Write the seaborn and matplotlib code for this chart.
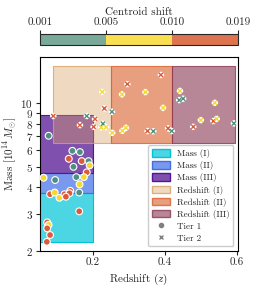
import numpy as np
import pandas as pd
import matplotlib
matplotlib.use('Agg')
import matplotlib.pyplot as plt
import matplotlib.colors as mcolors
import matplotlib.patheffects as pe
from matplotlib.lines import Line2D
from matplotlib.patches import Patch
from matplotlib.ticker import FixedLocator, NullLocator, ScalarFormatter
import seaborn as sns

# Tier 1 clusters (circles)
t1_z = [0.077, 0.143, 0.164, 0.133, 0.146, 0.169, 0.188, 0.191, 0.183, 0.175, 0.154,
        0.163, 0.063, 0.095, 0.162, 0.081, 0.094, 0.107, 0.121, 0.137, 0.135, 0.125,
        0.162, 0.073, 0.077, 0.073, 0.081, 0.072]
t1_mass = [7.01, 5.95, 5.87, 5.46, 5.00, 5.32, 5.32, 5.08, 4.71, 4.47, 4.47,
           4.13, 4.44, 4.33, 3.78, 3.71, 3.78, 3.57, 3.71, 3.85, 3.75, 3.61,
           3.08, 2.73, 2.66, 2.56, 2.38, 2.21]
t1_shift = [0.003, 0.003, 0.003, 0.014, 0.003, 0.014, 0.003, 0.007, 0.014, 0.007, 0.003,
            0.007, 0.007, 0.003, 0.003, 0.014, 0.007, 0.007, 0.014, 0.014, 0.014, 0.014,
            0.014, 0.014, 0.007, 0.014, 0.014, 0.014]

# Tier 2 clusters (crosses)
t2_z = [0.090, 0.183, 0.206, 0.164, 0.202, 0.228, 0.237, 0.226, 0.232, 0.253, 0.223,
        0.254, 0.282, 0.292, 0.281, 0.296, 0.389, 0.346, 0.395, 0.352, 0.368, 0.409,
        0.419, 0.442, 0.440, 0.451, 0.539, 0.500, 0.479, 0.535, 0.544, 0.592]
t2_mass = [8.69, 8.69, 8.41, 7.87, 7.73, 7.99, 7.70, 11.3, 9.44, 9.10, 7.68,
           7.24, 7.40, 7.65, 11.0, 12.3, 13.6, 11.27, 9.50, 7.38, 7.36, 7.60,
           7.38, 11.43, 10.33, 10.5, 10.04, 8.31, 7.73, 8.22, 8.43, 8.02]
t2_shift = [0.014, 0.003, 0.014, 0.014, 0.014, 0.003, 0.007, 0.007, 0.014, 0.003, 0.007,
            0.007, 0.007, 0.007, 0.007, 0.014, 0.014, 0.007, 0.007, 0.014, 0.003, 0.014,
            0.003, 0.007, 0.003, 0.003, 0.007, 0.007, 0.014, 0.014, 0.007, 0.003]

# Bins
mass_edges = [2.2, 3.75, 4.65, 8.75]
mass_z_range = [0.05, 0.2]
z_edges = [0.09, 0.25, 0.42, 0.595]
z_mass_range = [6.45, 15.0]
mass_labels = ['Mass (I)', 'Mass (II)', 'Mass (III)']
z_labels = ['Redshift (I)', 'Redshift (II)', 'Redshift (III)']
mass_colors = ['#00c4d8', '#3f6ee6', '#551595']
mass_alpha = [0.7, 0.7, 0.75]
z_colors = ['#d9a066', '#da5f2a', '#8a3752']
z_alpha = [0.4, 0.6, 0.6]

shift_bounds = [0.001, 0.005, 0.010, 0.019]
shift_colors = ['#4f8f80', '#f6d92e', '#d95b3b']
cbar_colors = ['#78a999', '#f8e052', '#de7350']

sns.set_style('ticks')
plt.rcParams['font.family'] = 'serif'
plt.rcParams['font.serif'] = ['cmr10', 'DejaVu Serif']
plt.rcParams['mathtext.fontset'] = 'cm'
plt.rcParams['axes.formatter.use_mathtext'] = True
plt.rcParams['axes.unicode_minus'] = False

df = pd.concat([
    pd.DataFrame({'z': t1_z, 'mass': t1_mass, 'shift': t1_shift, 'tier': 'Tier 1'}),
    pd.DataFrame({'z': t2_z, 'mass': t2_mass, 'shift': t2_shift, 'tier': 'Tier 2'}),
])
df['cls'] = pd.cut(df['shift'], bins=shift_bounds, labels=['low', 'mid', 'high'])
pal = dict(zip(['low', 'mid', 'high'], shift_colors))

fig = plt.figure(figsize=(2.58, 2.9), dpi=100)
ax = fig.add_axes([0.155, 0.1345, 0.767, 0.6685])
cax = fig.add_axes([0.155, 0.845, 0.767, 0.038])

# bin rectangles
handles = []
for i in range(3):
    ax.fill_between(mass_z_range, mass_edges[i], mass_edges[i + 1] if i < 2 else mass_edges[3],
                    facecolor=mcolors.to_rgba(mass_colors[i], mass_alpha[i]),
                    edgecolor=mass_colors[i], lw=0.8, zorder=1)
    handles.append(Patch(facecolor=mcolors.to_rgba(mass_colors[i], mass_alpha[i]),
                         edgecolor=mass_colors[i], label=mass_labels[i]))
for i in range(3):
    ax.fill_between(z_edges[i:i + 2], z_mass_range[0], z_mass_range[1],
                    facecolor=mcolors.to_rgba(z_colors[i], z_alpha[i]),
                    edgecolor=mcolors.to_rgba(z_colors[i], 0.8), lw=0.8, zorder=2)
    handles.append(Patch(facecolor=mcolors.to_rgba(z_colors[i], z_alpha[i]),
                         edgecolor=mcolors.to_rgba(z_colors[i], 0.8), label=z_labels[i]))

# points
sns.scatterplot(data=df[df['tier'] == 'Tier 1'], x='z', y='mass', hue='cls', palette=pal,
                marker='o', s=24, edgecolor='white', linewidth=0.8, legend=False,
                zorder=4, ax=ax)
sns.scatterplot(data=df[df['tier'] == 'Tier 2'], x='z', y='mass', hue='cls', palette=pal,
                marker='x', s=9, linewidth=1.0, legend=False, zorder=4, ax=ax,
                path_effects=[pe.Stroke(linewidth=2.8, foreground='white'), pe.Normal()])

ax.set_yscale('log')
ax.set_xlim(0.053, 0.603)
ax.set_ylim(2, 16.5)
ax.yaxis.set_major_locator(FixedLocator([2, 3, 4, 5, 6, 7, 8, 9, 10]))
ax.yaxis.set_major_formatter(ScalarFormatter())
ax.yaxis.set_minor_locator(NullLocator())
ax.set_xticks([0.2, 0.4, 0.6])
ax.set_xticklabels(['0.2', '0.4', '0.6'])
ax.tick_params(labelsize=8, length=3, width=0.8, pad=2)
ax.set_xlabel('Redshift ($z$)', fontsize=8, labelpad=3)
ax.set_ylabel(r'Mass [$10^{14}\,M_{\odot}$]', fontsize=8, labelpad=1)
for s in ax.spines.values():
    s.set_linewidth(0.8)
    s.set_color('black')

handles.append(Line2D([], [], marker='o', ls='', color='gray', markersize=3, label='Tier 1'))
handles.append(Line2D([], [], marker='x', ls='', color='gray', markersize=3, label='Tier 2'))
ax.legend(handles=handles, loc='lower right', fontsize=6.5, handlelength=2.0,
          handleheight=0.9, labelspacing=0.35, borderpad=0.4, handletextpad=0.8,
          framealpha=1, edgecolor='#cccccc')

# colorbar
cmap = mcolors.ListedColormap(cbar_colors)
norm = mcolors.BoundaryNorm(shift_bounds, cmap.N)
cb = fig.colorbar(plt.cm.ScalarMappable(norm=norm, cmap=cmap), cax=cax,
                  orientation='horizontal', spacing='uniform', ticks=shift_bounds)
cb.ax.xaxis.set_ticks_position('top')
cb.ax.xaxis.set_label_position('top')
cb.ax.set_xticklabels(['0.001', '0.005', '0.010', '0.019'])
cb.ax.tick_params(labelsize=8, length=3, width=0.8, pad=2)
cb.set_label('Centroid shift', fontsize=8, labelpad=2)
cb.outline.set_linewidth(0.8)

fig.savefig('out.png', dpi=100)
